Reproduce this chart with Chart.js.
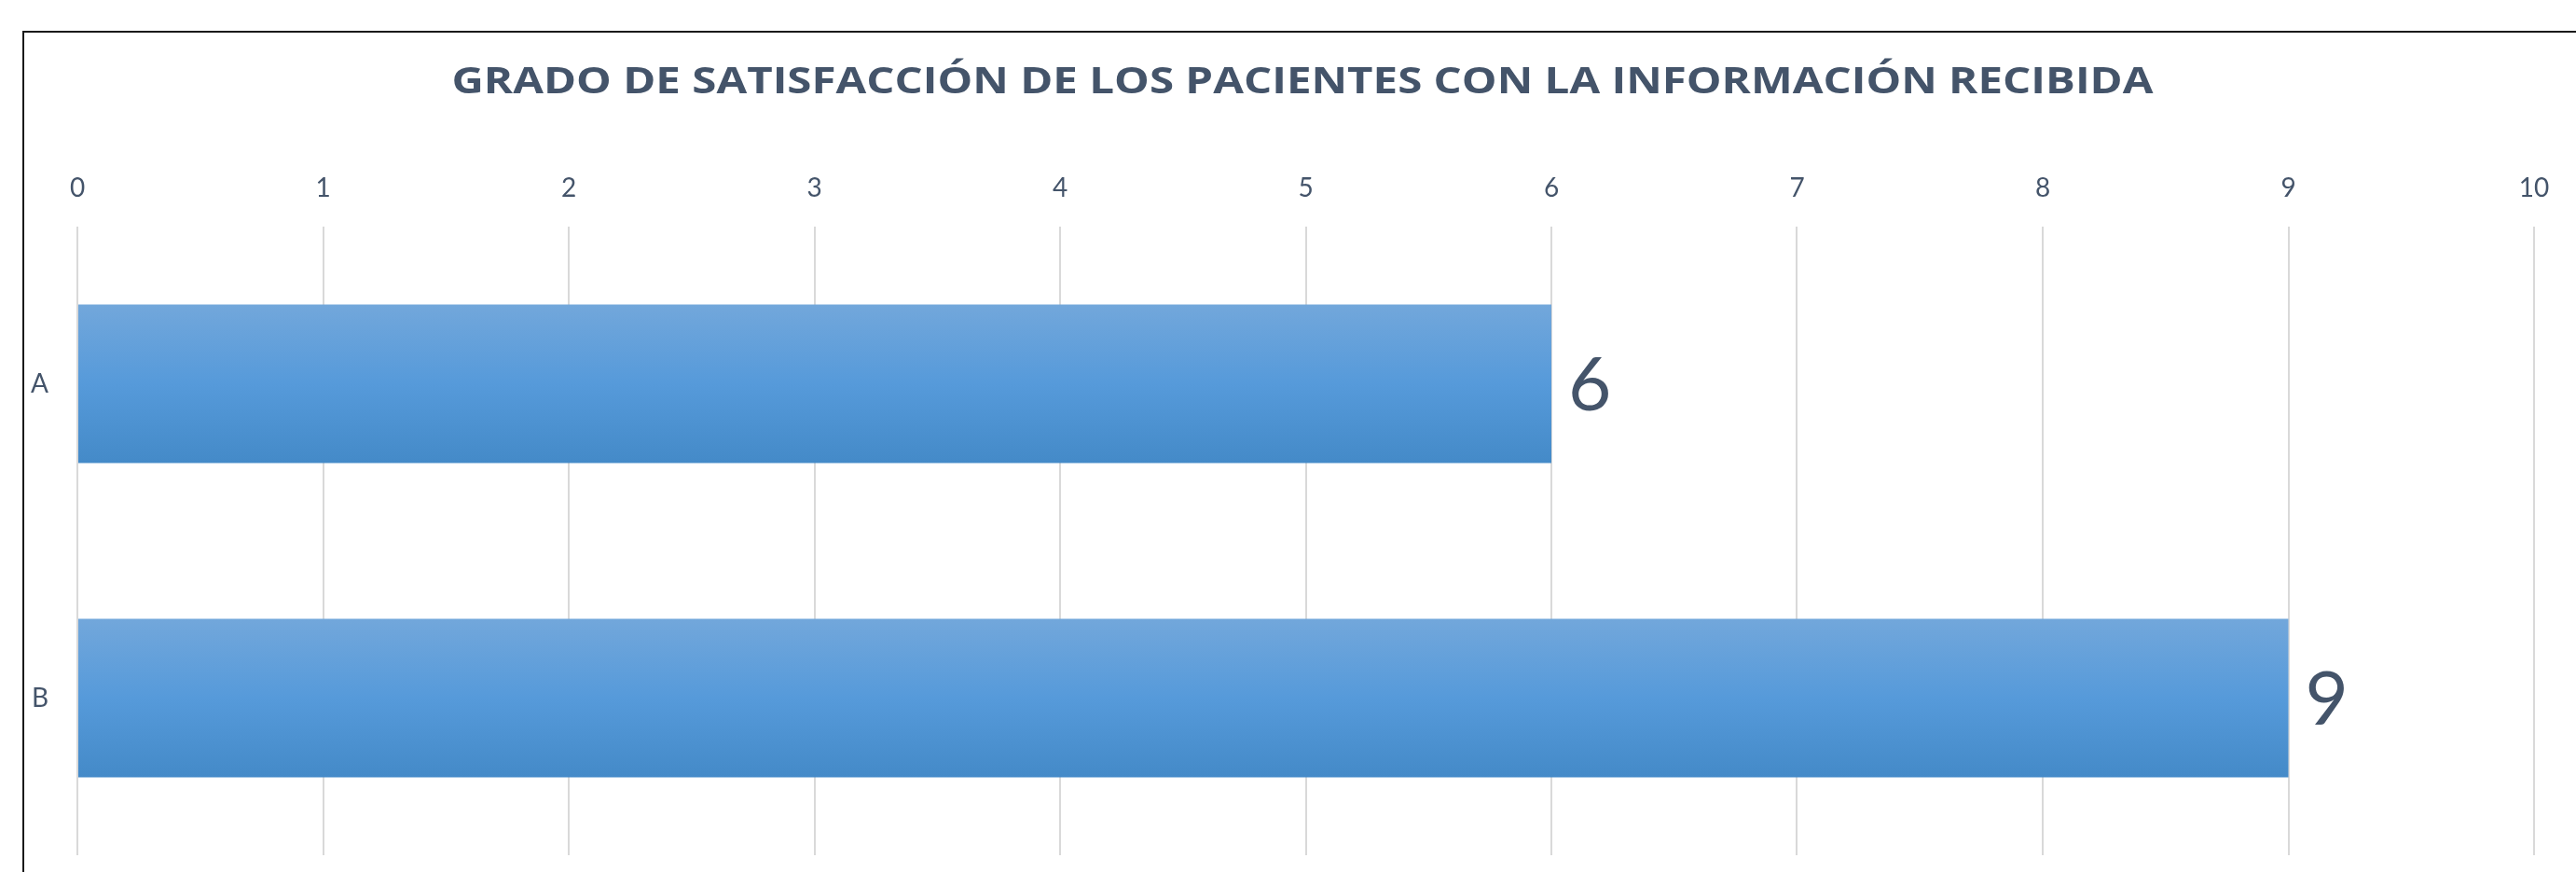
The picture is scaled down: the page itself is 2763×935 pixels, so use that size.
<!DOCTYPE html>
<html>
<head>
<meta charset="utf-8">
<script src="https://cdn.jsdelivr.net/npm/chart.js@4/dist/chart.umd.min.js"></script>
<style>
  html, body { margin: 0; padding: 0; background: #fff; overflow: hidden; }
  #wrap { position: relative; width: 2763px; height: 935px; }
  canvas { display: block; }
</style>
</head>
<body>
<div id="wrap"><canvas id="c" width="2763" height="935"></canvas></div>
<script>
const chartTitle = 'GRADO DE SATISFACCIÓN DE LOS PACIENTES CON LA INFORMACIÓN RECIBIDA';
const categories = ['A', 'B'];
const seriesValues = [6, 9];
const xMin = 0;
const xMax = 10;
const xStep = 1;

const textColor = '#44546A';
const fontFamily = 'Lato, "Open Sans", sans-serif';

const frame = {
  id: 'frame',
  beforeDraw(chart) {
    const c = chart.ctx;
    c.save();
    c.fillStyle = '#ffffff';
    c.fillRect(0, 0, chart.width, chart.height);
    c.strokeStyle = '#1a1a1a';
    c.lineWidth = 2;
    c.beginPath();
    c.moveTo(25, chart.height + 10);
    c.lineTo(25, 34);
    c.lineTo(chart.width + 10, 34);
    c.stroke();
    // title
    c.fillStyle = textColor;
    c.font = 'bold 39px "Open Sans", Lato, sans-serif';
    c.textBaseline = 'alphabetic';
    c.textAlign = 'center';
    const w = c.measureText(chartTitle).width;
    const sx = 1825 / w;
    c.translate(1397, 100);
    c.scale(sx, 1);
    c.fillText(chartTitle, 0, 0);
    c.restore();
  }
};

const valueLabels = {
  id: 'valueLabels',
  afterDatasetsDraw(chart) {
    const c = chart.ctx;
    const meta = chart.getDatasetMeta(0);
    c.save();
    c.fillStyle = textColor;
    c.font = '80px ' + fontFamily;
    c.textAlign = 'left';
    c.textBaseline = 'middle';
    meta.data.forEach((bar, i) => {
      c.fillText(String(chart.data.datasets[0].data[i]), bar.x + 18, bar.y + 3);
    });
    c.restore();
  }
};

function barGradient(ctx) {
  const chart = ctx.chart;
  const yScale = chart.scales.y;
  if (!yScale || ctx.dataIndex === undefined) return '#5B9BD5';
  const center = yScale.getPixelForValue(ctx.dataIndex);
  const half = (yScale.height / categories.length) * 0.505 / 2;
  if (!isFinite(center) || !isFinite(half) || half <= 0) return '#5B9BD5';
  const g = chart.ctx.createLinearGradient(0, center - half, 0, center + half);
  g.addColorStop(0, '#72A7DB');
  g.addColorStop(0.5, '#569ADA');
  g.addColorStop(1, '#448AC8');
  return g;
}

new Chart(document.getElementById('c'), {
  type: 'bar',
  data: {
    labels: categories,
    datasets: [{
      data: seriesValues,
      backgroundColor: barGradient,
      borderWidth: 0,
      categoryPercentage: 1,
      barPercentage: 0.505
    }]
  },
  options: {
    indexAxis: 'y',
    responsive: false,
    animation: false,
    devicePixelRatio: 1,
    layout: { padding: { left: 0, right: 45, top: 112.8, bottom: 18 } },
    plugins: {
      legend: { display: false },
      tooltip: { enabled: false },
      title: { display: false }
    },
    scales: {
      x: {
        position: 'top',
        min: xMin,
        max: xMax,
        ticks: {
          stepSize: xStep,
          color: textColor,
          font: { family: fontFamily, size: 28 },
          padding: 24,
          maxRotation: 0
        },
        grid: { color: '#D9D9D9', lineWidth: 2, drawTicks: false },
        border: { display: false },
        afterFit(scale) {
          scale.height = 243 - 112.8;
          scale.paddingLeft = 0; scale.paddingRight = 0;
        }
      },
      y: {
        ticks: {
          color: textColor,
          font: { family: fontFamily, size: 28 },
          padding: 31
        },
        grid: { display: false, drawTicks: false },
        border: { display: false },
        afterFit(scale) {
          scale.width = 83;
          scale.paddingTop = 0; scale.paddingBottom = 0;
        }
      }
    }
  },
  plugins: [frame, valueLabels]
});
</script>
</body>
</html>
